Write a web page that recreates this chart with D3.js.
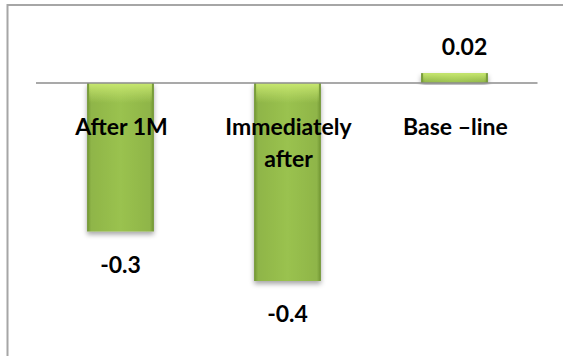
<!DOCTYPE html>
<html>
<head>
<meta charset="utf-8">
<script src="https://cdn.jsdelivr.net/npm/d3@7"></script>
<style>
  html, body { margin: 0; padding: 0; background: #fff; }
  svg { display: block; }
  text { font-family: Lato, "Noto Sans", sans-serif; font-weight: 700; fill: #000; }
</style>
</head>
<body>
<script>
const categories = ["After 1M", "Immediately after", "Base \u2013line"];
const categoryLines = [["After 1M"], ["Immediately", "after"], ["Base \u2013line"]];
const values = [-0.3, -0.4, 0.02];
const valueLabels = ["-0.3", "-0.4", "0.02"];

const W = 563, H = 356;
const svg = d3.select("body").append("svg").attr("width", W).attr("height", H);

const defs = svg.append("defs");
const grad = defs.append("linearGradient").attr("id", "barH").attr("x1", 0).attr("x2", 1).attr("y1", 0).attr("y2", 0);
grad.append("stop").attr("offset", "0%").attr("stop-color", "#6f9331");
grad.append("stop").attr("offset", "6%").attr("stop-color", "#8fb548");
grad.append("stop").attr("offset", "50%").attr("stop-color", "#9ac24f");
grad.append("stop").attr("offset", "94%").attr("stop-color", "#8fb548");
grad.append("stop").attr("offset", "100%").attr("stop-color", "#6f9331");

const gv = defs.append("linearGradient").attr("id", "barV").attr("x1", 0).attr("x2", 0).attr("y1", 0).attr("y2", 1);
gv.append("stop").attr("offset", "0%").attr("stop-color", "#c8e870").attr("stop-opacity", 1);
gv.append("stop").attr("offset", "100%").attr("stop-color", "#c4e36e").attr("stop-opacity", 0);

const shadow = defs.append("filter").attr("id", "shadow").attr("x", "-20%").attr("y", "-20%").attr("width", "140%").attr("height", "140%");
shadow.append("feDropShadow").attr("dx", 0).attr("dy", 3).attr("stdDeviation", 2.5).attr("flood-color", "#000").attr("flood-opacity", 0.35);

// chart frame
svg.append("path")
  .attr("d", `M7.5,${H} L7.5,5 L${W},5`)
  .attr("fill", "none").attr("stroke", "#a6a6a6").attr("stroke-width", 2);

const x = d3.scaleBand().domain(categories).range([37, 538]).paddingInner(0.6).paddingOuter(0.3);
const y = d3.scaleLinear().domain([0.1, -0.5]).range([33.5, 330.5]);

const bars = svg.append("g");
categories.forEach((c, i) => {
  const v = values[i];
  const top = Math.min(y(v), y(0));
  const h = Math.abs(y(v) - y(0));
  const g = bars.append("g").attr("filter", "url(#shadow)");
  g.append("rect").attr("x", x(c)).attr("y", top).attr("width", x.bandwidth()).attr("height", h)
    .attr("fill", "url(#barH)");
  g.append("rect").attr("x", x(c) + 2).attr("y", top).attr("width", x.bandwidth() - 4).attr("height", Math.min(h, 20))
    .attr("fill", "url(#barV)");
});

// zero line
svg.append("line")
  .attr("x1", 36).attr("x2", 537.5)
  .attr("y1", y(0)).attr("y2", y(0))
  .attr("stroke", "#8c8c8c").attr("stroke-width", 1.5);

// category labels
const fs = 23;
categories.forEach((c, i) => {
  const t = svg.append("text").attr("x", x(c) + x.bandwidth() / 2 + 1).attr("y", 135)
    .attr("text-anchor", "middle").attr("font-size", fs);
  categoryLines[i].forEach((ln, j) => {
    t.append("tspan").attr("x", x(c) + x.bandwidth() / 2 + 1).attr("dy", j === 0 ? 0 : 32).text(ln);
  });
});

// value labels
categories.forEach((c, i) => {
  const v = values[i];
  const cx = x(c) + x.bandwidth() / 2;
  svg.append("text")
    .attr("x", v >= 0 ? cx + 10 : cx)
    .attr("y", v >= 0 ? y(v) - 18 : y(v) + 41)
    .attr("text-anchor", "middle").attr("font-size", fs)
    .text(valueLabels[i]);
});
</script>
</body>
</html>
